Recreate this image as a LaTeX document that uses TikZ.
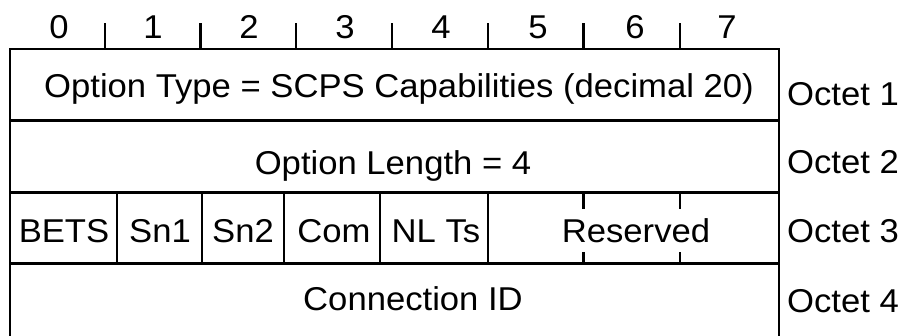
\documentclass[tikz,border=0pt]{standalone}
\usepackage{fontspec}
\setmainfont{Liberation Sans}[FakeStretch=1.05]
\begin{document}
\begin{tikzpicture}[x=1pt,y=-1pt,
  ln/.style={line width=2.8pt},
  tk/.style={line width=2.8pt},
  txt/.style={inner sep=0pt,anchor=base,font=\fontsize{33}{40}\selectfont},
  lbl/.style={txt,anchor=base west}]
\useasboundingbox (0,0) rectangle (901,335);
% frame
\coordinate (tl) at (10,49);
\coordinate (tr) at (779,49);
\coordinate (bl) at (10,337);
\coordinate (br) at (779,337);
\coordinate (r1l) at (10,120.5);
\coordinate (r1r) at (779,120.5);
\coordinate (r2l) at (10,192.5);
\coordinate (r2r) at (779,192.5);
\coordinate (r3l) at (10,263.5);
\coordinate (r3r) at (779,263.5);
\draw[ln,line cap=rect] (bl) -- (tl) -- (tr) -- (br);
\draw[ln] (r1l) -- (r1r);
\draw[ln] (r2l) -- (r2r);
\draw[ln] (r3l) -- (r3r);
% top ticks and bit numbers
\foreach \i/\x in {1/105,2/200.5,3/296,4/392,5/488,6/583.5,7/680}{
  \coordinate (t\i a) at (\x,23);
  \coordinate (t\i b) at (\x,49);
  \draw[tk] (t\i a) -- (t\i b);
}
\foreach \i/\x in {0/59,1/153,2/249,3/345,4/441,5/538,6/635,7/727}{
  \node[txt] (b\i) at (\x,38) {\i};
}
% row 3 dividers
\foreach \i/\x in {1/117,2/202,3/284,4/380,5/488}{
  \coordinate (d\i a) at (\x,192.5);
  \coordinate (d\i b) at (\x,263.5);
  \draw[ln] (d\i a) -- (d\i b);
}
% reserved ticks
\foreach \i/\x in {1/583.5,2/680}{
  \coordinate (u\i a) at (\x,192.5);
  \coordinate (u\i b) at (\x,209);
  \coordinate (v\i a) at (\x,252);
  \coordinate (v\i b) at (\x,263.5);
  \draw[tk] (u\i a) -- (u\i b);
  \draw[tk] (v\i a) -- (v\i b);
}
% texts
\node[txt] (f1) at (399,97) {Option Type = SCPS Capabilities (decimal 20)};
\node[txt] (f2) at (393,174) {Option Length = 4};
\node[txt] (f3a) at (64,242) {BETS};
\node[txt] (f3b) at (160,242) {Sn1};
\node[txt] (f3c) at (243,242) {Sn2};
\node[txt] (f3d) at (334,242) {Com};
\node[txt] (f3e) at (436,242) {NL Ts};
\node[txt] (f3f) at (636,242) {Reserved};
\node[txt] (f4) at (413,310.5) {Connection ID};
% octet labels
\node[lbl] (o1) at (787,105) {Octet 1};
\node[lbl] (o2) at (787,173) {Octet 2};
\node[lbl] (o3) at (787,242) {Octet 3};
\node[lbl] (o4) at (787,312.5) {Octet 4};
\end{tikzpicture}
\end{document}
